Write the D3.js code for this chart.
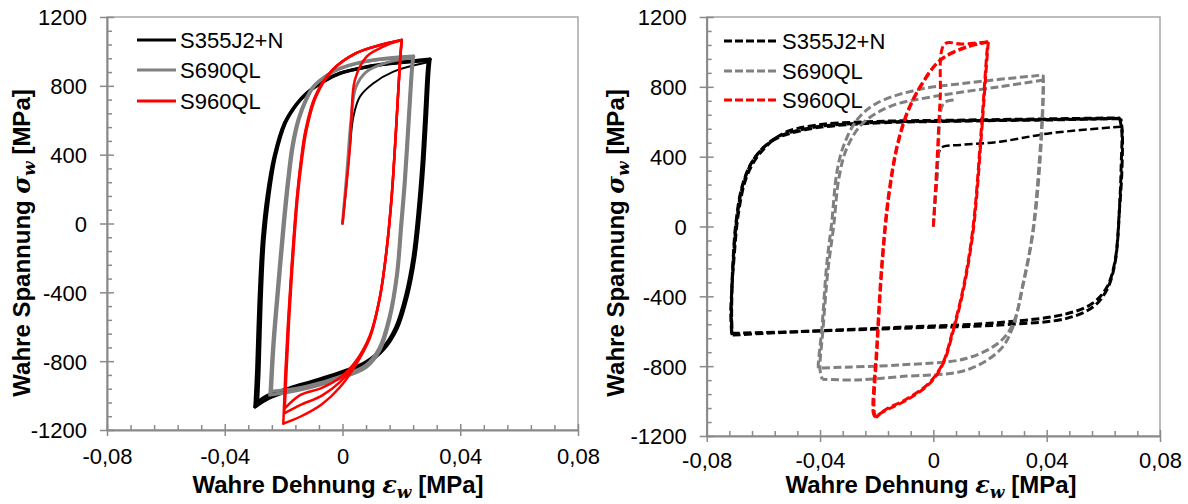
<!DOCTYPE html>
<html><head><meta charset="utf-8">
<script src="https://cdn.jsdelivr.net/npm/d3@7"></script>
<style>body{margin:0;background:#fff}svg{display:block}</style>
</head><body>
<svg id="c" width="1188" height="504"></svg>
<script>
// ---------- tick values / labels ----------
const xMajor = [-0.08, -0.04, 0, 0.04, 0.08];
const xTickLabels = ["-0,08", "-0,04", "0", "0,04", "0,08"];
const yMajor = [1200, 800, 400, 0, -400, -800, -1200];
const yTickLabels = ["1200", "800", "400", "0", "-400", "-800", "-1200"];
const xMinor = [-0.072,-0.064,-0.056,-0.048,-0.032,-0.024,-0.016,-0.008,0.008,0.016,0.024,0.032,0.048,0.056,0.064,0.072];
const yMinor = [1120,1040,960,880,720,640,560,480,320,240,160,80,-80,-160,-240,-320,-480,-560,-640,-720,-880,-960,-1040,-1120];
const seriesNames = ["S355J2+N", "S690QL", "S960QL"];

// ---------- LEFT panel data [strain, stress MPa] ----------
const L355_init = [[0,0],[0.0012,200],[0.0025,440],[0.0037,621],[0.0059,737],[0.0105,815],[0.0173,883],[0.0286,935]];
const L355_c1_up = [[-0.0297,-1065],[-0.0291,-850],[-0.0283,-450],[-0.0272,-100],[-0.0256,156],[-0.0232,388],[-0.0197,582],[-0.0158,690],[-0.0122,757],[-0.006,830],[-0.0008,873],[0.008,910],[0.0161,931],[0.024,945],[0.0297,955]];
const L355_c1_dn = [[0.0297,955],[0.0293,880],[0.0285,620],[0.0275,330],[0.0262,60],[0.0245,-200],[0.022,-420],[0.0185,-610],[0.014,-730],[0.008,-815],[0.0,-872],[-0.008,-920],[-0.018,-970],[-0.025,-1015],[-0.0297,-1065]];
const L355_c2_up = [[-0.0288,-1035],[-0.0283,-850],[-0.0276,-450],[-0.0266,-100],[-0.0250,156],[-0.0228,388],[-0.0192,590],[-0.0153,697],[-0.0118,762],[-0.0058,833],[-0.0006,875],[0.008,908],[0.0161,928],[0.024,940],[0.0291,946]];
const L355_c2_dn = [[0.0291,946],[0.0287,870],[0.0279,620],[0.0269,330],[0.0256,60],[0.0239,-200],[0.0214,-420],[0.0180,-605],[0.0137,-722],[0.0078,-805],[0.0,-860],[-0.008,-905],[-0.018,-955],[-0.025,-995],[-0.0288,-1035]];

const L690_init = [[0,0],[0.0015,300],[0.003,620],[0.0045,790],[0.008,880],[0.015,935],[0.0241,965]];
const L690_c1_up = [[-0.0246,-995],[-0.0236,-700],[-0.0219,-350],[-0.0201,0],[-0.0186,250],[-0.0171,450],[-0.0151,602],[-0.0126,715],[-0.0099,795],[-0.005,865],[-0.0008,902],[0.0105,950],[0.0241,972]];
const L690_c1_dn = [[0.0241,972],[0.0237,900],[0.0226,600],[0.0213,250],[0.0201,0],[0.0186,-300],[0.0161,-550],[0.0127,-735],[0.0082,-833],[-0.0008,-900],[-0.0122,-958],[-0.020,-985],[-0.0246,-995]];
const L690_c2_up = [[-0.0241,-975],[-0.0232,-700],[-0.0215,-350],[-0.0197,0],[-0.0182,250],[-0.0167,450],[-0.0147,605],[-0.0122,718],[-0.0096,797],[-0.0048,866],[-0.0006,902],[0.0105,948],[0.0238,962]];
const L690_c2_dn = [[0.0238,962],[0.0234,890],[0.0223,600],[0.021,250],[0.0198,0],[0.0183,-300],[0.0158,-545],[0.0124,-725],[0.0080,-822],[-0.0008,-888],[-0.0122,-945],[-0.020,-968],[-0.0241,-975]];

const L960_init = [[0,0],[0.0012,200],[0.0025,440],[0.003,600],[0.0042,834],[0.0082,970],[0.0139,1028],[0.0201,1067]];
const L960_c1_up = [[-0.0196,-1074],[-0.0190,-850],[-0.0181,-550],[-0.0168,-200],[-0.0152,156],[-0.0137,380],[-0.0122,544],[-0.0090,737],[-0.0033,892],[0.0046,990],[0.0127,1038],[0.0201,1067]];
const L960_c1_dn = [[0.0201,1067],[0.0195,931],[0.0182,550],[0.0167,156],[0.0150,-150],[0.0127,-425],[0.0093,-650],[0.0045,-800],[-0.0008,-895],[-0.0070,-955],[-0.0144,-997],[-0.0196,-1074]];
const L960_c2_up = [[-0.0198,-1103],[-0.0192,-850],[-0.0183,-550],[-0.0170,-200],[-0.0154,156],[-0.0139,380],[-0.0124,544],[-0.0092,737],[-0.0035,890],[0.0044,988],[0.0127,1036],[0.0201,1066]];
const L960_c2_dn = [[0.0201,1066],[0.0195,931],[0.0182,550],[0.0167,156],[0.0150,-150],[0.0127,-428],[0.0093,-658],[0.0044,-815],[-0.0008,-920],[-0.0070,-1000],[-0.0144,-1055],[-0.0198,-1103]];
const L960_c3_up = [[-0.0201,-1162],[-0.0195,-900],[-0.0186,-600],[-0.0173,-250],[-0.0156,130],[-0.0141,370],[-0.0126,540],[-0.0094,735],[-0.0037,888],[0.0042,986],[0.0125,1035],[0.0201,1065]];
const L960_c3_dn = [[0.0201,1065],[0.0195,931],[0.0182,550],[0.0167,156],[0.0150,-150],[0.0127,-432],[0.0093,-665],[0.0042,-830],[-0.0008,-950],[-0.0070,-1050],[-0.0144,-1123],[-0.0201,-1162]];

// ---------- RIGHT panel data [strain, stress MPa] ----------
const R355_init = [[0,0],[0.0012,250],[0.0023,440],[0.0035,458],[0.0094,467],[0.0235,486],[0.0412,534],[0.0665,572]];
const R355_c1_up = [[-0.0712,-612],[-0.0715,-497],[-0.0711,-350],[-0.0705,-211],[-0.0688,76],[-0.0659,285],[-0.0612,419],[-0.0529,534],[-0.0412,581],[-0.0235,600],[0.0118,610],[0.0471,618],[0.0657,622]];
const R355_c1_dn = [[0.0657,622],[0.0665,553],[0.0663,350],[0.0659,171],[0.0641,-211],[0.0612,-364],[0.0565,-459],[0.0471,-526],[0.0235,-564],[-0.0118,-583],[-0.0471,-602],[-0.0712,-612]];
const R355_c2_up = [[-0.0710,-622],[-0.0712,-500],[-0.0708,-250],[-0.0694,40],[-0.0670,250],[-0.0630,395],[-0.0555,508],[-0.0430,566],[-0.0235,594],[0.0118,606],[0.0471,614],[0.0662,618]];
const R355_c2_dn = [[0.0662,618],[0.0667,540],[0.0665,300],[0.0657,100],[0.0641,-200],[0.0612,-350],[0.0562,-440],[0.0471,-500],[0.0235,-550],[-0.0118,-577],[-0.0471,-602],[-0.0710,-622]];
const R355_c3_up = [[-0.0711,-617],[-0.0713,-500],[-0.0709,-260],[-0.0697,20],[-0.0675,230],[-0.0638,375],[-0.0570,490],[-0.0450,555],[-0.0235,590],[0.0118,604],[0.0471,612],[0.0660,620]];

const R690_init = [[0,0],[0.0016,380],[0.0030,686],[0.0045,715],[0.008,725]];
const R690_c1_up = [[-0.0406,-812],[-0.0406,-784],[-0.0394,-593],[-0.0376,-211],[-0.0359,18],[-0.0341,305],[-0.0318,457],[-0.0270,610],[-0.0200,706],[-0.0059,782],[0.0118,822],[0.0388,868]];
const R690_c1_dn = [[0.0388,868],[0.0388,744],[0.0376,362],[0.0353,-20],[0.0318,-325],[0.0282,-554],[0.0235,-660],[0.0118,-755],[-0.0118,-793],[-0.0353,-808],[-0.0406,-812]];
const R690_c2_up = [[-0.0392,-875],[-0.0400,-820],[-0.0390,-600],[-0.0372,-250],[-0.0352,0],[-0.0333,280],[-0.0305,450],[-0.0250,590],[-0.0150,690],[0.0,744],[0.0235,801],[0.0388,839]];
const R690_c2_dn = [[0.0388,839],[0.0386,700],[0.0372,330],[0.0350,-40],[0.0315,-340],[0.0280,-580],[0.0235,-707],[0.0118,-822],[-0.0118,-860],[-0.0270,-879],[-0.0392,-875]];

const R960_init = [[0,0],[0.0012,343],[0.0024,725],[0.0040,1045],[0.0100,1045],[0.0194,1058]];
const R960_c1_up = [[-0.0206,-1089],[-0.0212,-1070],[-0.0200,-689],[-0.0182,-211],[-0.0159,171],[-0.0129,457],[-0.0094,648],[-0.0047,801],[0.0024,954],[0.0118,1030],[0.0194,1058]];
const R960_c1_dn = [[0.0194,1058],[0.0188,935],[0.0171,553],[0.0141,-20],[0.0106,-364],[0.0071,-593],[0.0035,-784],[-0.0012,-898],[-0.0094,-994],[-0.0165,-1051],[-0.0206,-1089]];
const R960_c2_up = [[-0.0203,-1095],[-0.0209,-1060],[-0.0198,-689],[-0.0180,-211],[-0.0157,171],[-0.0127,457],[-0.0092,648],[-0.0045,801],[0.0026,954],[0.0120,1028],[0.0192,1055]];
const R960_c2_dn = [[0.0192,1055],[0.0186,935],[0.0169,553],[0.0139,-20],[0.0104,-364],[0.0069,-593],[0.0033,-784],[-0.0014,-895],[-0.0096,-990],[-0.0165,-1045],[-0.0203,-1095]];

// ---------- styling ----------
const colors = ["#000000", "#808080", "#ff0000"];
const FONT = "'Liberation Sans', Arial, sans-serif";
const AXC = "#8a8a8a";

const svg = d3.select("#c");

function panel(cfg) {
  const x = d3.scaleLinear().domain([-0.08, 0.08]).range([cfg.x0, cfg.x1]);
  const y = d3.scaleLinear().domain([-1200, 1200]).range([cfg.y1, cfg.y0]);
  const g = svg.append("g");
  // plot frame
  g.append("rect").attr("x", cfg.x0).attr("y", cfg.y0)
    .attr("width", cfg.x1 - cfg.x0).attr("height", cfg.y1 - cfg.y0)
    .attr("fill", "none").attr("stroke", "#a6a6a6").attr("stroke-width", 1.5);

  const line = d3.line().x(d => x(d[0])).y(d => y(d[1])).curve(d3.curveCatmullRom.alpha(0.5));
  const curves = g.append("g");
  cfg.curves.forEach(c => {
    curves.append("path").attr("d", line(c.data)).attr("fill", "none")
      .attr("stroke", colors[c.s]).attr("stroke-width", c.w)
      .attr("stroke-linejoin", "round").attr("stroke-linecap", cfg.dash ? "butt" : "round")
      .attr("stroke-dasharray", cfg.dash ? "8,3.5" : null)
      .attr("stroke-dashoffset", c.off || 0);
  });

  // minor ticks
  g.append("g").attr("transform", `translate(0,${cfg.y1})`)
    .call(d3.axisBottom(x).tickValues(xMinor).tickSize(-5).tickFormat(""))
    .call(a => a.select(".domain").remove())
    .call(a => a.selectAll("line").attr("stroke", AXC).attr("stroke-width", 1.5));
  g.append("g").attr("transform", `translate(${cfg.x0},0)`)
    .call(d3.axisLeft(y).tickValues(yMinor).tickSize(-5).tickFormat(""))
    .call(a => a.select(".domain").remove())
    .call(a => a.selectAll("line").attr("stroke", AXC).attr("stroke-width", 1.5));

  // major ticks + labels
  const xa = g.append("g").attr("transform", `translate(0,${cfg.y1})`)
    .call(d3.axisBottom(x).tickValues(xMajor).tickSize(6).tickSizeOuter(0).tickFormat((d, i) => xTickLabels[i]));
  xa.select(".domain").attr("stroke", AXC).attr("stroke-width", 2);
  xa.selectAll(".tick line").attr("y1", -6).attr("y2", 6).attr("stroke", AXC).attr("stroke-width", 1.5);
  xa.selectAll(".tick text").attr("y", cfg.xLabY).attr("dy", null).attr("fill", "#000")
    .style("font-family", FONT).style("font-size", "22px");

  const ya = g.append("g").attr("transform", `translate(${cfg.x0},0)`)
    .call(d3.axisLeft(y).tickValues(yMajor).tickSize(7).tickSizeOuter(0).tickPadding(13).tickFormat((d, i) => yTickLabels[i]));
  ya.select(".domain").attr("stroke", AXC).attr("stroke-width", 2);
  ya.selectAll(".tick line").attr("x1", -7).attr("x2", 7).attr("stroke", AXC).attr("stroke-width", 1.5);
  ya.selectAll(".tick text").attr("fill", "#000").attr("dy", "0.36em")
    .style("font-family", FONT).style("font-size", "22px");

  // axis titles
  const xt = g.append("text").attr("x", cfg.xTitleX).attr("y", 493).attr("text-anchor", "middle")
    .style("font-family", FONT).style("font-size", "24px").style("font-weight", "bold");
  xt.append("tspan").text("Wahre Dehnung ");
  xt.append("tspan").text("ε").style("font-family", "'DejaVu Serif', serif").style("font-style", "italic");
  xt.append("tspan").text("w").attr("dy", 5).style("font-size", "17px").style("font-family", "'DejaVu Serif', serif").style("font-style", "italic");
  xt.append("tspan").text(" [MPa]").attr("dy", -5);

  const yt = g.append("text").attr("transform", `translate(${cfg.yTitleX},243) rotate(-90)`).attr("text-anchor", "middle")
    .style("font-family", FONT).style("font-size", "24px").style("font-weight", "bold");
  yt.append("tspan").text("Wahre Spannung ");
  yt.append("tspan").text("σ").style("font-family", "'DejaVu Serif', serif").style("font-style", "italic");
  yt.append("tspan").text("w").attr("dy", 5).style("font-size", "17px").style("font-family", "'DejaVu Serif', serif").style("font-style", "italic");
  yt.append("tspan").text(" [MPa]").attr("dy", -5);

  // legend
  const lg = g.append("g");
  seriesNames.forEach((n, i) => {
    const yy = cfg.legY[i];
    lg.append("line").attr("x1", cfg.legX0).attr("x2", cfg.legX1).attr("y1", yy).attr("y2", yy)
      .attr("stroke", colors[i]).attr("stroke-width", 3)
      .attr("stroke-dasharray", cfg.dash ? "8,3" : null);
    lg.append("text").attr("x", cfg.legTX).attr("y", yy + 8).text(n)
      .style("font-family", FONT).style("font-size", "22px").attr("fill", "#000");
  });
}

panel({
  x0: 107, x1: 578, y0: 17, y1: 430, xLabY: 34, xTitleX: 338, yTitleX: 30,
  legX0: 137, legX1: 176, legTX: 180, legY: [40, 70, 101], dash: false,
  curves: [
    {data: L355_init, s: 0, w: 2},
    {data: L355_c1_up, s: 0, w: 3.5}, {data: L355_c1_dn, s: 0, w: 3.5},
    {data: L355_c2_up, s: 0, w: 3}, {data: L355_c2_dn, s: 0, w: 3},
    {data: L690_init, s: 1, w: 3},
    {data: L690_c1_up, s: 1, w: 3.5}, {data: L690_c1_dn, s: 1, w: 3.5},
    {data: L690_c2_up, s: 1, w: 3}, {data: L690_c2_dn, s: 1, w: 3},
    {data: L960_init, s: 2, w: 2.5},
    {data: L960_c1_up, s: 2, w: 2.5}, {data: L960_c1_dn, s: 2, w: 2.5},
    {data: L960_c2_up, s: 2, w: 2.5}, {data: L960_c2_dn, s: 2, w: 2.5},
    {data: L960_c3_up, s: 2, w: 2.5}, {data: L960_c3_dn, s: 2, w: 2.5}
  ]
});

panel({
  x0: 706.7, x1: 1160, y0: 17, y1: 436, xLabY: 32, xTitleX: 931, yTitleX: 624,
  legX0: 724, legX1: 777, legTX: 782, legY: [41, 71, 100], dash: true,
  curves: [
    {data: R355_init, s: 0, w: 2.5},
    {data: R355_c1_up, s: 0, w: 3}, {data: R355_c1_dn, s: 0, w: 3},
    {data: R355_c2_up, s: 0, w: 3, off: 5}, {data: R355_c2_dn, s: 0, w: 3, off: 5},
    {data: R355_c3_up, s: 0, w: 3, off: 3},
    {data: R690_init, s: 1, w: 3},
    {data: R690_c1_up, s: 1, w: 3}, {data: R690_c1_dn, s: 1, w: 3},
    {data: R690_c2_up, s: 1, w: 3, off: 5}, {data: R690_c2_dn, s: 1, w: 3, off: 5},
    {data: R960_init, s: 2, w: 3},
    {data: R960_c1_up, s: 2, w: 3}, {data: R960_c1_dn, s: 2, w: 3},
    {data: R960_c2_up, s: 2, w: 3, off: 0}, {data: R960_c2_dn, s: 2, w: 3, off: 6}
  ]
});
</script>
</body></html>
